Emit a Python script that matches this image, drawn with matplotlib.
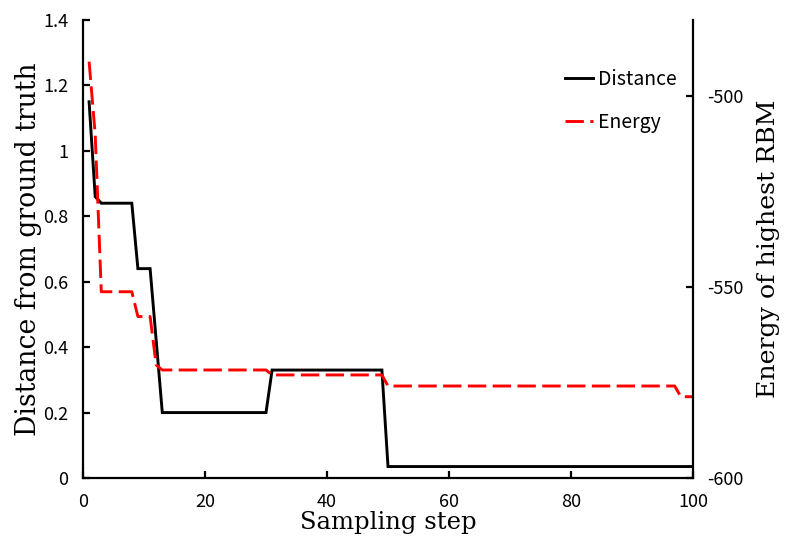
import matplotlib
matplotlib.use('Agg')
import matplotlib.pyplot as plt
from matplotlib.lines import Line2D

# data
dist_steps = [1, 2, 3, 8, 9, 11, 12, 13, 30, 31, 49, 50, 100]
dist_vals = [1.15, 0.86, 0.84, 0.84, 0.64, 0.64, 0.42, 0.2, 0.2, 0.33, 0.33, 0.035, 0.035]

energy_steps = [1, 2, 3, 8, 9, 11, 12, 13, 30, 31, 49, 50, 97, 98, 100]
energy_vals = [-490.9, -510.0, -551.2, -551.2, -557.7, -557.7, -570.4, -571.7,
               -571.7, -573.0, -573.0, -575.9, -575.9, -578.7, -578.7]

x_ticks = [0, 20, 40, 60, 80, 100]
left_ticks = [0, 0.2, 0.4, 0.6, 0.8, 1.0, 1.2, 1.4]
left_labels = ['0', '0.2', '0.4', '0.6', '0.8', '1', '1.2', '1.4']
right_ticks = [-600, -550, -500]

tick_font = 'Noto Sans CJK JP'
label_font = 'DejaVu Serif'

plt.rcParams['axes.unicode_minus'] = False


def style_axis(ax):
    ax.spines['top'].set_visible(False)
    for s in ('left', 'right', 'bottom'):
        ax.spines[s].set_linewidth(1.6)
    ax.tick_params(direction='in', length=5, width=1.6, pad=10.5, labelsize=13)
    for lab in ax.get_xticklabels() + ax.get_yticklabels():
        lab.set_fontfamily(tick_font)


def main():
    fig = plt.figure(figsize=(7.85, 5.41), dpi=100)
    ax = fig.add_axes([83 / 785, 1 - 478 / 541, 610 / 785, 458 / 541])
    ax2 = ax.twinx()

    ax.plot(dist_steps, dist_vals, color='black', lw=2.1, solid_joinstyle='miter')
    ax2.plot(energy_steps, energy_vals, color='#ff0000', lw=2.1,
             dashes=(6.3, 2.2))

    ax.set_xlim(0, 100)
    ax.set_ylim(0, 1.4)
    ax2.set_ylim(-600, -480)
    ax.set_xticks(x_ticks)
    ax.set_yticks(left_ticks)
    ax.set_yticklabels(left_labels)
    ax2.set_yticks(right_ticks)
    ax.spines['right'].set_visible(False)

    style_axis(ax)
    style_axis(ax2)
    ax2.spines['left'].set_visible(False)
    ax2.spines['bottom'].set_visible(False)

    ax.set_xlabel('Sampling step', fontsize=17.5, family=label_font)
    ax.xaxis.set_label_coords(0.5, -0.098)
    ax.xaxis.label.set_va('center')
    ax.set_ylabel('Distance from ground truth', fontsize=19.2, family=label_font)
    ax.yaxis.set_label_coords(-0.09, 0.5)
    ax.yaxis.label.set_va('center')
    ax2.set_ylabel('Energy of highest RBM', fontsize=18.2, family=label_font)
    ax2.yaxis.set_label_coords(1.123, 0.5)
    ax2.yaxis.label.set_va('center')

    handles = [Line2D([], [], color='black', lw=2.1),
               Line2D([], [], color='#ff0000', lw=2.1, dashes=(6.3, 2.2))]
    ax2.legend(handles, ['Distance', 'Energy'], loc='upper left',
               bbox_to_anchor=(565 / 785, 1 - 69 / 541),
               bbox_transform=fig.transFigure, frameon=False,
               borderpad=0, borderaxespad=0, handlelength=1.45,
               handletextpad=0.25, labelspacing=1.14,
               prop={'family': tick_font, 'size': 14})

    fig.savefig('out.png', dpi=100)


if __name__ == '__main__':
    main()
